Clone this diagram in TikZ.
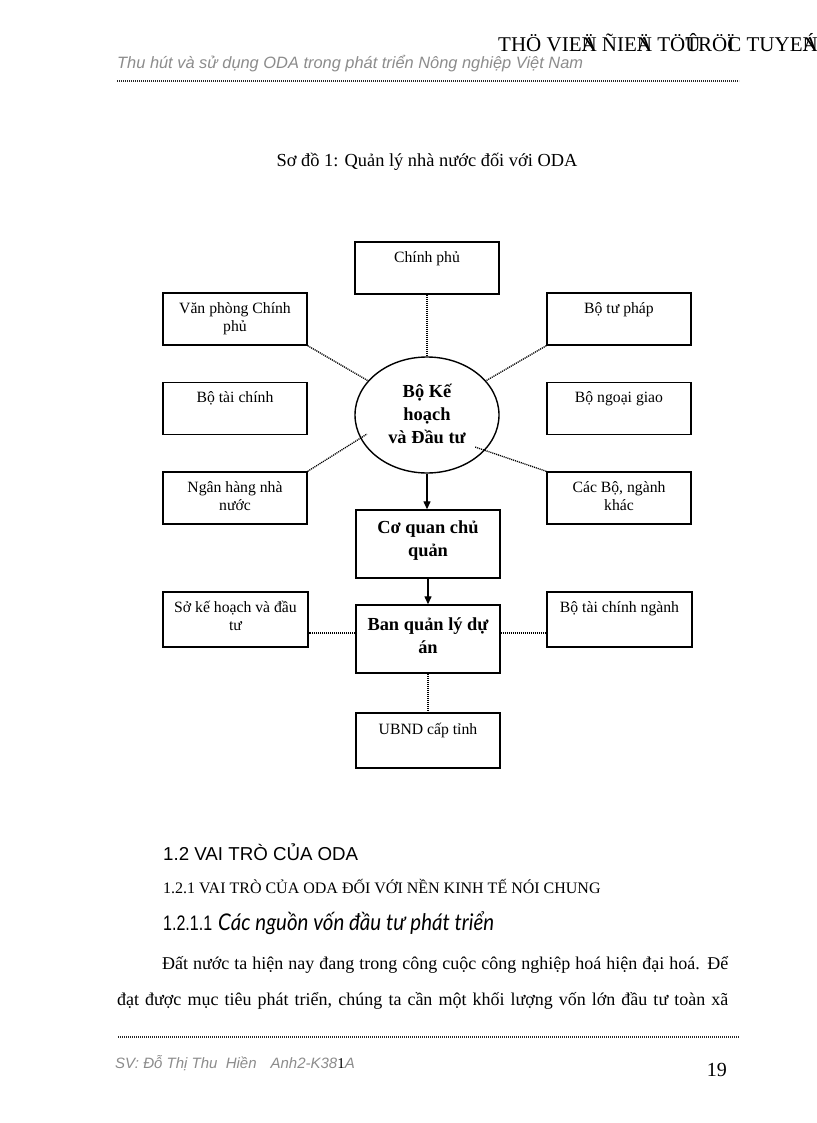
\documentclass[tikz,border=0pt]{standalone}
\usepackage{fontspec}
\usepackage{graphicx}
\setmainfont{Liberation Serif}
\newfontfamily\arialf{Liberation Sans}
\newfontfamily\latof{Lato}
\usetikzlibrary{arrows.meta,shapes.geometric}
\begin{document}
\begin{tikzpicture}[x=1pt,y=-1pt,
  boxn/.style={draw, line width=1.4pt, minimum width=144pt, minimum height=52pt, inner sep=0pt},
  txt/.style={font=\fontsize{15.7}{18}\selectfont, align=center, inner sep=0pt, anchor=north},
  btxt/.style={font=\fontsize{18.4}{23}\selectfont\bfseries, align=center, inner sep=0pt},
  conn/.style={line width=1.3pt, dash pattern=on 1.1pt off 0.9pt, draw=black},
  arr/.style={line width=1.3pt, -{Triangle[length=8pt,width=7pt]}},
  rulel/.style={line width=1.4pt, dash pattern=on 1.4pt off 0.6pt, draw=black!85},
  hdr/.style={inner sep=0pt, anchor=base west}]
\useasboundingbox (0,0) rectangle (816,1123);
\fill[white] (0,0) rectangle (816,1123);

% header
\node[inner sep=0pt, anchor=base east, font=\fontsize{21}{24}\selectfont] (hr) at (818,52)
  {THÖ VIE\rlap{Ä}N ÑIE\rlap{Ä}N TÖ\rlap{Û}TRÖ\rlap{Ï}C TUYE\rlap{Á}N};
\node[hdr, font=\arialf\itshape\fontsize{16.4}{19}\selectfont, text=black!45] (hl) at (117,69)
  {Thu hút và sử dụng ODA trong phát triển Nông nghiệp Việt Nam};
\coordinate (r1a) at (117,81);
\coordinate (r1b) at (739,81);
\draw[rulel] (r1a) -- (r1b);

% title
\node[inner sep=0pt, anchor=base, font=\fontsize{18.4}{22}\selectfont] (title) at (427,167)
  {Sơ đồ 1: Quản lý nhà nước đối với ODA};

% boxes
\node[boxn] (cp) at (427,268) {};
\node[boxn] (vp) at (235,319) {};
\node[boxn] (btp) at (619,319) {};
\node[boxn] (btc) at (235,408.5) {};
\node[boxn] (bng) at (619,408.5) {};
\node[boxn] (nh) at (235,498) {};
\node[boxn] (cb) at (619,498) {};
\node[ellipse, draw, line width=1.4pt, minimum width=144pt, minimum height=116pt, inner sep=0pt] (boss) at (427,415) {};
\node[boxn, minimum height=68pt] (cq) at (428,544) {};
\node[boxn, minimum height=68pt] (bql) at (428,639) {};
\node[boxn, minimum width=145pt, minimum height=55pt] (sk) at (235.5,619.5) {};
\node[boxn, minimum width=145pt, minimum height=55pt] (btcn) at (619.5,619.5) {};
\node[boxn, minimum height=55pt] (ub) at (428,740.5) {};

% box texts
\node[txt] (tcp) at ([yshift=-8pt]cp.north) {\strut Chính phủ};
\node[txt] (tvp) at ([yshift=-8pt]vp.north) {\strut Văn phòng Chính\\phủ};
\node[txt] (tbtp) at ([yshift=-8pt]btp.north) {\strut Bộ tư pháp};
\node[txt] (tbtc) at ([yshift=-8pt]btc.north) {\strut Bộ tài chính};
\node[txt] (tbng) at ([yshift=-8pt]bng.north) {\strut Bộ ngoại giao};
\node[txt] (tnh) at ([yshift=-8pt]nh.north) {\strut Ngân hàng nhà\\nước};
\node[txt] (tcb) at ([yshift=-8pt]cb.north) {\strut Các Bộ, ngành\\khác};
\node[txt] (tsk) at ([yshift=-8.4pt]sk.north) {\strut Sở kế hoạch và đầu\\tư};
\node[txt] (tbtcn) at ([yshift=-8.4pt]btcn.north) {\strut Bộ tài chính ngành};
\node[txt] (tub) at ([yshift=-9.4pt]ub.north) {\strut UBND cấp tỉnh};
\node[btxt] (tboss) at ([yshift=1pt]boss.center) {Bộ Kế\\hoạch\\và Đầu tư};
\node[btxt] (tcq) at ([yshift=3pt]cq.center) {Cơ quan chủ\\quản};
\node[btxt] (tbql) at ([yshift=3pt]bql.center) {Ban quản lý dự\\án};

% connectors
\draw[conn] (cp.south) -- (boss.north);
\draw[conn] (vp.south east) -- (boss);
\draw[conn] (btp.south west) -- (boss);
\coordinate (nhend) at (367,434);
\coordinate (cbend) at (475,447);
\draw[conn] (nh.north east) -- (nhend);
\draw[conn] (cb.north west) -- (cbend);
\draw[arr] (boss.south) -- (boss.south |- cq.north);
\draw[arr] (cq.south) -- (bql.north);
\coordinate (bqlw) at ([yshift=6pt]bql.west);
\coordinate (bqle) at ([yshift=6pt]bql.east);
\draw[conn] (bqlw) -- (sk.east |- bqlw);
\draw[conn] (bqle) -- (btcn.west |- bqle);
\draw[conn] (bql.south) -- (ub.north);

% text below
\node[hdr, font=\arialf\fontsize{18.7}{22}\selectfont] (s12) at (163,860) {1.2 VAI TRÒ CỦA ODA};
\node[hdr, font=\fontsize{16}{19}\selectfont] (s121) at (163,893) {1.2.1 VAI TRÒ CỦA ODA ĐỐI VỚI NỀN KINH TẾ NÓI CHUNG};
\node[hdr, font=\arialf\fontsize{21}{24}\selectfont] (s1211n) at (163,930) {\resizebox{49pt}{\height}{1.2.1.1}};
\node[hdr, font=\latof\itshape\fontsize{23}{26}\selectfont] (s1211t) at (218,930) {\resizebox{276pt}{\height}{Các nguồn vốn đầu tư phát triển}};
\node[hdr, font=\fontsize{18}{22}\selectfont] (p1) at (162,969)
  {\hbox to 566pt{Đất nước ta hiện nay đang trong công cuộc công nghiệp hoá hiện đại hoá. Để}};
\node[hdr, font=\fontsize{18}{22}\selectfont] (p2) at (117,1005)
  {\hbox to 611pt{đạt được mục tiêu phát triển, chúng ta cần một khối lượng vốn lớn đầu tư toàn xã}};

% footer
\coordinate (r2a) at (118,1037);
\coordinate (r2b) at (739,1037);
\draw[rulel] (r2a) -- (r2b);
\node[hdr, font=\arialf\itshape\fontsize{15}{18}\selectfont, text=black!45] (ft) at (115,1068)
  {SV: Đỗ Thị Thu\ \ Hiền\hspace{14pt}Anh2-K38{\normalfont\upshape\color{black}1}A};
\node[inner sep=0pt, anchor=base east, font=\fontsize{20}{24}\selectfont] (pg) at (727,1076) {19};
\end{tikzpicture}
\end{document}
